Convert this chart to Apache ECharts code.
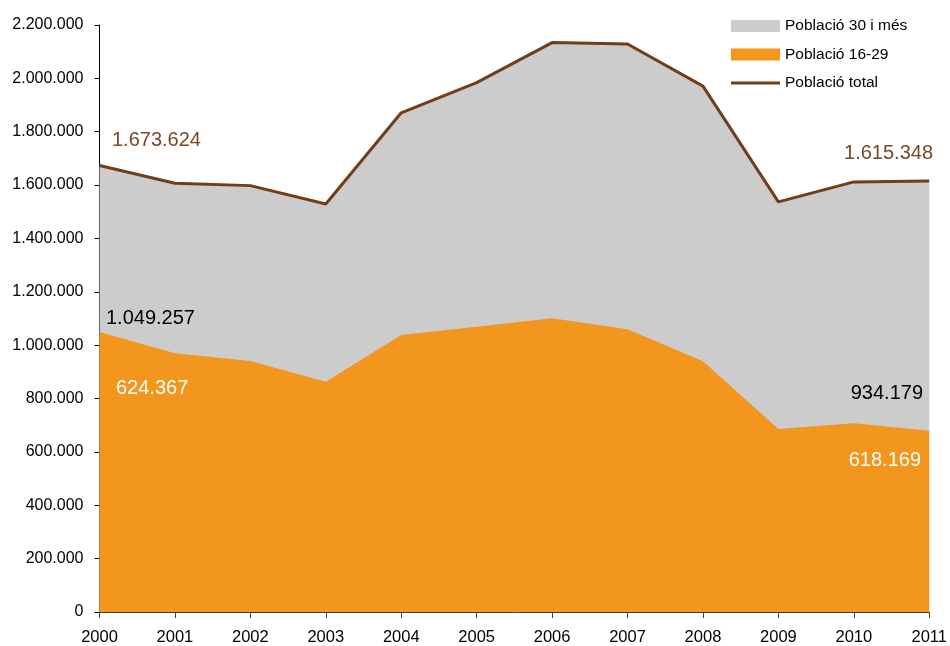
<!DOCTYPE html>
<html>
<head>
<meta charset="utf-8">
<script src="https://cdn.jsdelivr.net/npm/echarts@6/dist/echarts.min.js"></script>
<style>
  html, body { margin: 0; padding: 0; background: #fff; }
  #chart { width: 950px; height: 646px; }
</style>
</head>
<body>
<div id="chart"></div>
<script>
// dades llegides del gràfic
var years = ['2000','2001','2002','2003','2004','2005','2006','2007','2008','2009','2010','2011'];
var total = [1673624, 1607000, 1598000, 1529000, 1871000, 1984000, 2134000, 2129000, 1971000, 1537000, 1612000, 1615348];
var jove  = [1049257, 969600, 940800, 863200, 1038200, 1069400, 1100800, 1059500, 940000, 685900, 707200, 679500];
var names = ['Població 30 i més', 'Població 16-29', 'Població total'];
var notes = ['1.673.624', '1.615.348', '1.049.257', '624.367', '934.179', '618.169'];

function fmt(v) {
    return String(v).replace(/\B(?=(\d{3})+(?!\d))/g, '.');
}

var myChart = echarts.init(document.getElementById('chart'));
var font = '"Liberation Sans", Arial, sans-serif';

var option = {
    animation: false,
    textStyle: { fontFamily: font },
    grid: { left: 99.5, right: 17.3, top: 25, bottom: 34, containLabel: false },
    legend: {
        orient: 'vertical',
        left: 726,
        top: 13,
        itemWidth: 49,
        itemHeight: 12,
        itemGap: 12.5,
        textStyle: { fontSize: 15.5, color: '#000', fontFamily: font },
        data: [
            { name: names[0], icon: 'rect' },
            { name: names[1], icon: 'rect' },
            { name: names[2], icon: 'path://M0,0 L49,0 L49,3 L0,3 Z' }
        ]
    },
    xAxis: {
        type: 'category',
        boundaryGap: false,
        data: years,
        axisLine: { lineStyle: { color: '#404040', width: 1 } },
        axisTick: { alignWithLabel: true, length: 6, lineStyle: { color: '#404040' } },
        axisLabel: { color: '#000', fontSize: 16.5, margin: 17, fontFamily: font },
        splitLine: { show: false }
    },
    yAxis: {
        type: 'value',
        min: 0,
        max: 2200000,
        interval: 200000,
        axisLine: { show: true, lineStyle: { color: '#000', width: 1 } },
        axisTick: { show: true, length: 5, lineStyle: { color: '#000' } },
        axisLabel: { color: '#000', fontSize: 16, margin: 16, formatter: fmt, fontFamily: font },
        splitLine: { show: false }
    },
    series: [
        {
            name: names[0],
            type: 'line',
            data: total,
            showSymbol: false,
            symbol: 'none',
            lineStyle: { width: 0 },
            itemStyle: { color: '#CCCCCC' },
            areaStyle: { color: '#CCCCCC', opacity: 1 }
        },
        {
            name: names[1],
            type: 'line',
            data: jove,
            showSymbol: false,
            symbol: 'none',
            lineStyle: { width: 0 },
            itemStyle: { color: '#F2961E' },
            areaStyle: { color: '#F2961E', opacity: 1 }
        },
        {
            name: names[2],
            type: 'line',
            data: total,
            showSymbol: false,
            symbol: 'none',
            itemStyle: { color: '#723D17' },
            lineStyle: { color: '#723D17', width: 3 }
        }
    ],
    graphic: [
        { type: 'text', z: 100, left: 112, top: 130, style: { text: notes[0], fill: '#7A4726', font: '20px ' + font } },
        { type: 'text', z: 100, right: 17, top: 143, style: { text: notes[1], fill: '#7A4726', font: '20px ' + font } },
        { type: 'text', z: 100, left: 106, top: 308, style: { text: notes[2], fill: '#000', font: '20px ' + font } },
        { type: 'text', z: 100, left: 116, top: 378, style: { text: notes[3], fill: '#fff', font: '20px ' + font } },
        { type: 'text', z: 100, right: 27, top: 383, style: { text: notes[4], fill: '#000', font: '20px ' + font } },
        { type: 'text', z: 100, right: 29, top: 450, style: { text: notes[5], fill: '#fff', font: '20px ' + font } }
    ]
};
myChart.setOption(option);
</script>
</body>
</html>
